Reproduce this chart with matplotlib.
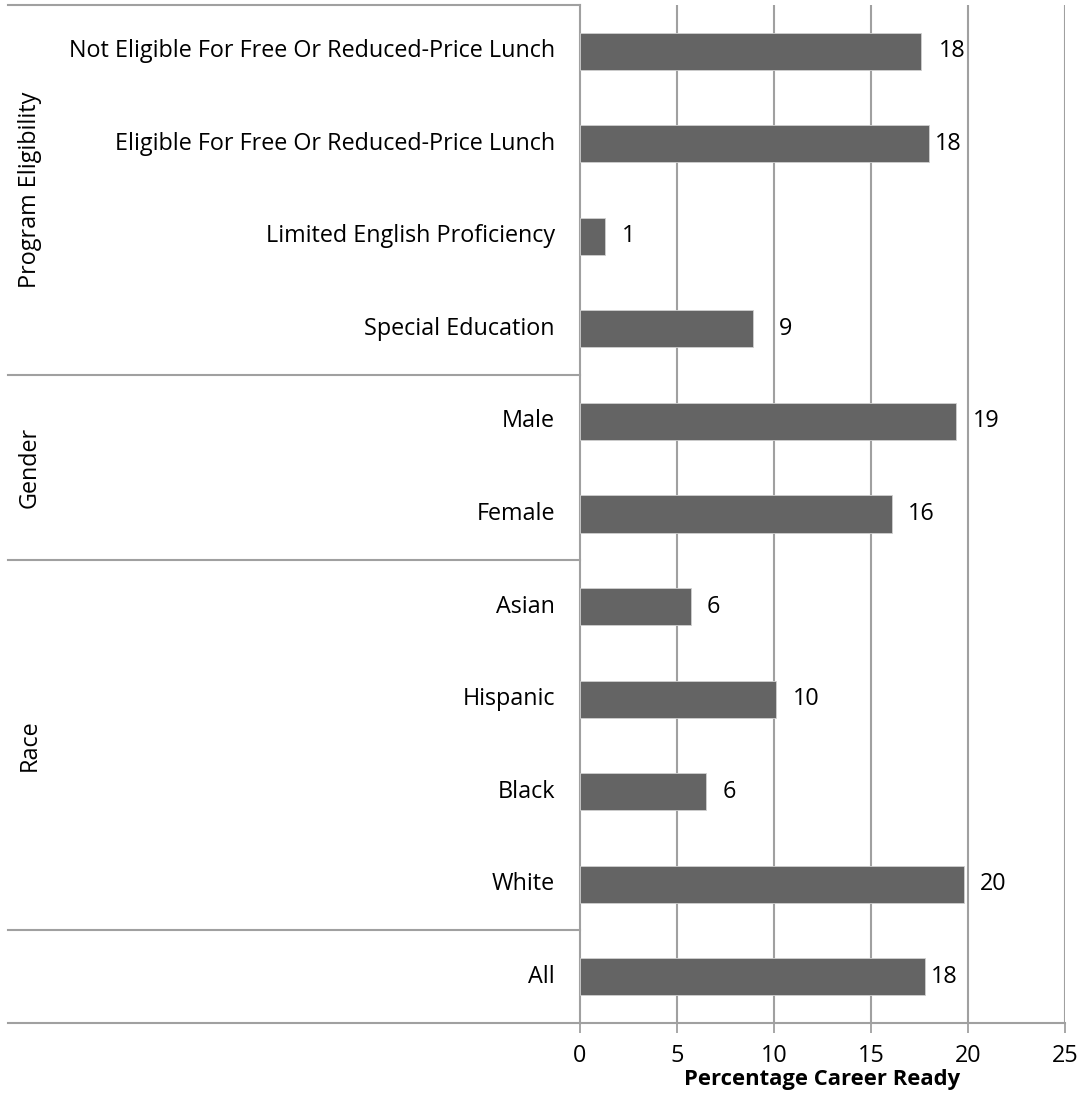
import matplotlib
matplotlib.use("Agg")
import matplotlib.pyplot as plt
from matplotlib.transforms import blended_transform_factory, offset_copy

categories = [
    "Not Eligible For Free Or Reduced-Price Lunch",
    "Eligible For Free Or Reduced-Price Lunch",
    "Limited English Proficiency",
    "Special Education",
    "Male",
    "Female",
    "Asian",
    "Hispanic",
    "Black",
    "White",
    "All",
]
values = [17.6, 18.0, 1.3, 8.9, 19.4, 16.1, 5.7, 10.1, 6.5, 19.8, 17.8]
value_labels = ["18", "18", "1", "9", "19", "16", "6", "10", "6", "20", "18"]
groups = ["Program Eligibility", "Gender", "Race", ""]
group_sizes = [4, 2, 4, 1]
xticks = [0, 5, 10, 15, 20, 25]
xlabel = "Percentage Career Ready"

# label offsets in pixels from bar end (style)
label_dx_px = [17, 6, 17, 26, 17, 16, 16, 17, 17, 16, 6]

FONT = "Open Sans"
FS = 16.8
GRID = "#a0a0a0"
BAR = "#646464"

W, H = 1086, 1099
fig = plt.figure(figsize=(W / 100, H / 100), dpi=100)
ax = fig.add_axes([580 / W, (H - 1023) / H, 485 / W, 1018 / H])

n = len(categories)
ypos = list(range(n))
ax.barh(ypos, values, height=0.4, color=BAR, edgecolor="#cfcfcf", linewidth=0.6, zorder=3)
ax.set_ylim(n - 0.5, -0.5)
ax.set_xlim(0, 25)
ax.set_xticks(xticks)
ax.set_xticklabels([str(t) for t in xticks], fontfamily=FONT, fontsize=FS)
ax.tick_params(axis="x", length=7, width=1.3, color=GRID, pad=8)
ax.set_yticks([])
for t in xticks[1:]:
    ax.axvline(t, color=GRID, lw=1.5, zorder=1)
for s in ["top", "right"]:
    ax.spines[s].set_visible(False)
for s in ["left", "bottom"]:
    ax.spines[s].set_color(GRID)
    ax.spines[s].set_linewidth(1.5)

ax.set_xlabel(xlabel, fontfamily=FONT, fontsize=FS - 1.0, fontweight="bold", labelpad=0.5)

# value labels
for i, (v, lab) in enumerate(zip(values, value_labels)):
    tr = offset_copy(ax.transData, fig=fig, x=label_dx_px[i] * 72 / 100, y=0, units="points")
    ax.text(v, i, lab, transform=tr, ha="left", va="center", fontfamily=FONT, fontsize=FS, zorder=4)

# category labels and group boxes
btr = blended_transform_factory(fig.transFigure, ax.transData)
for i, c in enumerate(categories):
    ax.text(555 / W, i, c, transform=btr, ha="right", va="center", fontfamily=FONT, fontsize=FS)

start = -0.5
ax.plot([8 / W, 580 / W], [start, start], transform=btr, color=GRID, lw=1.5, clip_on=False)
for g, sz in zip(groups, group_sizes):
    end = start + sz
    ax.plot([8 / W, 580 / W], [end, end], transform=btr, color=GRID, lw=1.5, clip_on=False)
    if g:
        ax.text(30 / W, (start + end) / 2, g, transform=btr, rotation=90, ha="center", va="center",
                fontfamily=FONT, fontsize=FS)
    start = end

fig.savefig("out.png", dpi=100)
